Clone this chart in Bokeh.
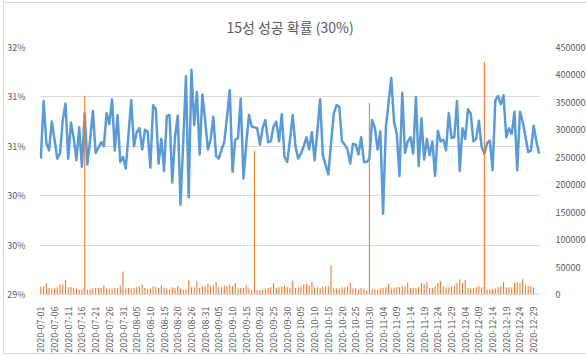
import math
import pandas as pd
from bokeh.plotting import figure
from bokeh.models import (Range1d, LinearAxis, FixedTicker, PrintfTickFormatter,
                          NumeralTickFormatter)
from bokeh.embed import file_html
from bokeh.resources import INLINE

# ---- data ----
all_days = pd.date_range("2020-07-01", "2020-12-31").strftime("%Y-%m-%d").tolist()
missing_days = ["2020-08-22"]
dates = [d for d in all_days if d not in missing_days]
pos = list(range(len(dates)))  # category slot of each date

# 15-star success rate (%), left axis
rates = [
    30.65, 31.35, 30.84, 30.75, 31.10, 30.88, 30.65, 30.71, 31.12, 31.32,
    30.65, 31.09, 30.90, 30.63, 31.03, 30.55, 31.20, 30.58, 30.88, 31.23,
    30.72, 30.78, 30.85, 30.80, 31.20, 31.07, 31.37, 30.75, 31.18, 30.61,
    30.67, 30.53, 30.94, 31.36, 30.80, 30.97, 31.02, 30.76, 31.00, 30.98,
    30.54, 31.30, 31.25, 30.59, 30.89, 30.50, 31.17, 31.18, 30.36, 30.91,
    31.17, 30.09, 30.85, 31.65, 30.18, 31.73, 31.06, 31.46, 30.70, 31.43,
    31.12, 30.76, 30.88, 31.16, 30.68, 30.65, 30.76, 30.85, 31.16, 31.48,
    30.49, 30.88, 30.90, 31.38, 30.41, 30.82, 31.18, 31.04, 31.03, 31.02,
    30.82, 31.02, 31.12, 30.85, 30.86, 31.04, 31.10, 30.86, 31.19, 30.67,
    30.61, 30.88, 31.18, 30.80, 30.65, 30.71, 30.80, 30.91, 30.76, 30.97,
    30.63, 30.98, 31.37, 30.69, 30.57, 30.46, 30.84, 31.20, 31.30, 31.28,
    30.86, 30.82, 30.76, 30.59, 30.83, 30.82, 30.70, 30.91, 30.61, 30.61,
    30.65, 31.12, 31.02, 30.76, 30.98, 29.98, 31.02, 31.33, 31.63, 31.10,
    30.95, 30.44, 31.45, 30.72, 30.86, 30.91, 30.71, 31.40, 30.56, 31.14,
    30.64, 30.89, 30.69, 30.86, 30.44, 30.99, 30.86, 30.88, 30.75, 31.20,
    30.90, 30.91, 31.35, 30.50, 31.02, 30.89, 31.25, 31.20, 30.86, 30.89,
    31.11, 30.79, 30.71, 30.84, 30.87, 30.51, 31.36, 31.41, 31.31, 31.42,
    30.91, 31.02, 30.95, 31.22, 30.51, 31.22, 31.10, 30.92, 30.73, 30.75,
    31.05, 30.86, 30.71,
]

# attempt counts, right axis
counts = [
    14000, 15000, 20000, 12000, 11000, 11000, 13000, 18000, 18000, 27000,
    13000, 13000, 12000, 11000, 9000, 10000, 362000, 9000, 9000, 11000,
    12000, 12000, 12000, 17000, 11000, 11000, 11000, 12000, 12000, 17000,
    42000, 11000, 12000, 11000, 12000, 13000, 15000, 18000, 12000, 10000,
    11000, 15000, 14000, 12000, 17000, 12000, 11000, 10000, 13000, 12000,
    16000, 11000, 9000, 9000, 26000, 13000, 13000, 24000, 12000, 15000,
    15000, 19000, 15000, 17000, 23000, 13000, 13000, 16000, 15000, 18000,
    15000, 21000, 11000, 12000, 12000, 17000, 11000, 8500, 262000, 8000,
    8000, 9000, 11000, 12000, 13000, 21000, 12000, 13000, 15000, 17000,
    13000, 12000, 25000, 12000, 13000, 15000, 18000, 19000, 17000, 23000,
    13000, 13000, 12000, 15000, 15000, 15000, 53000, 11000, 11000, 11000,
    13000, 13000, 15000, 21000, 11000, 12000, 9000, 12000, 11000, 7000,
    349000, 9000, 9000, 9000, 11000, 12000, 13000, 19000, 11000, 12000,
    13000, 13000, 15000, 15000, 22000, 12000, 12000, 12000, 13000, 21000,
    19000, 22000, 12000, 12000, 15000, 21000, 24000, 15000, 13000, 13000,
    15000, 16000, 21000, 28000, 21000, 27000, 12000, 11000, 12000, 13000,
    16000, 13000, 424000, 9000, 9000, 10000, 11000, 13000, 15000, 23000,
    13000, 13000, 13000, 21000, 22000, 21000, 28000, 17000, 15000, 15000,
    13000, 0, 0,
]

left_ticks = [29.0, 29.6, 30.2, 30.8, 31.4, 32.0]
right_ticks = [0, 50000, 100000, 150000, 200000, 250000, 300000, 350000, 400000, 450000]
label_every = 5

title_text = "15성 성공 확률 (30%)"

FONT = "Noto Sans CJK KR"
GREY = "#595959"
GRID = "#D9D9D9"

p = figure(width=584, height=352, x_range=Range1d(-0.5, len(dates) - 0.5),
           y_range=Range1d(29, 32),
           output_backend="svg", toolbar_location=None, title=title_text,
           min_border_left=32, min_border_right=45, min_border_top=44, min_border_bottom=57)
p.margin = (2, 0, 0, 3)
p.styles = {"border": "1px solid #D9D9D9"}
p.extra_y_ranges = {"cnt": Range1d(0, 450000)}

p.title.align = "center"
p.title.text_font = FONT
p.title.text_font_size = "14px"
p.title.text_font_style = "normal"
p.title.text_color = GREY
p.title.standoff = 21

p.outline_line_color = None
p.background_fill_color = "white"
p.border_fill_color = "white"

p.line(x=pos, y=rates, line_color="#5B9BD5", line_width=2.5, line_join="round")
p.vbar(x=pos, top=counts, width=0.4, y_range_name="cnt",
       fill_color="#ED7D31", line_color=None)

# left axis
ya = p.yaxis[0]
ya.ticker = FixedTicker(ticks=left_ticks)
ya.formatter = PrintfTickFormatter(format="%.0f%%")
ya.axis_line_color = None
ya.major_tick_line_color = None
ya.minor_tick_line_color = None
ya.major_label_standoff = 8
ya.major_label_text_font = FONT
ya.major_label_text_font_size = "9px"
ya.major_label_text_color = GREY

p.ygrid.ticker = FixedTicker(ticks=left_ticks)
p.ygrid.grid_line_color = GRID
p.xgrid.visible = False

# right axis
ra = LinearAxis(y_range_name="cnt", ticker=FixedTicker(ticks=right_ticks),
                formatter=NumeralTickFormatter(format="0"))
ra.axis_line_color = None
ra.major_tick_line_color = None
ra.minor_tick_line_color = None
ra.major_label_standoff = 9
ra.major_label_text_font = FONT
ra.major_label_text_font_size = "9px"
ra.major_label_text_color = GREY
p.add_layout(ra, "right")

# x axis: label every fifth day
tick_pos = pos[::label_every]
xa = p.xaxis[0]
xa.ticker = FixedTicker(ticks=tick_pos)
xa.major_label_overrides = {i: dates[i] for i in tick_pos}
xa.major_label_orientation = math.pi / 2
xa.axis_line_color = GRID
xa.major_tick_line_color = None
xa.minor_tick_line_color = None
xa.major_label_standoff = 6
xa.major_label_text_font = FONT
xa.major_label_text_font_size = "9px"
xa.major_label_text_color = GREY

open("out.html", "w").write(file_html(p, INLINE))
